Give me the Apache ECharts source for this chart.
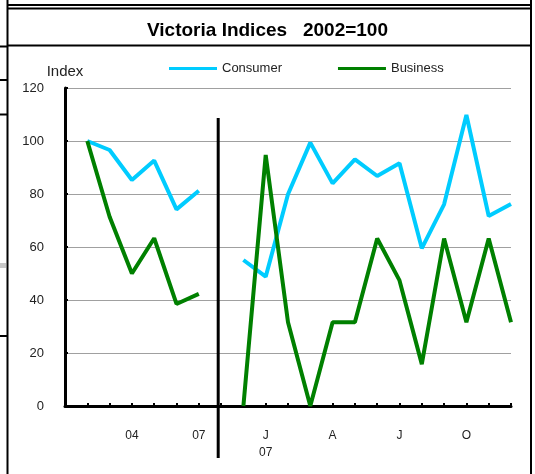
<!DOCTYPE html>
<html lang="en">

<head>
    <meta charset="UTF-8">
    <title>Victoria Indices</title>
    <style>
        body { margin: 0; background: #fff; }
    </style>
</head>

<body>
    <div id="main" style="width: 535px;height:474px;"></div>
    <script src="https://cdn.jsdelivr.net/npm/echarts@6/dist/echarts.min.js"></script>
    <script>
        // annual points (02..07), then monthly points (Dec 06 .. Dec 07)
        var consumerAnnual = [100, 96.6, 85.3, 92.6, 74.2, 81.2];
        var consumerMonthly = [55.1, 48.8, 79.9, 99.4, 84.0, 93.1, 86.8, 91.6, 59.5, 76.1, 109.8, 71.7, 76.2];
        var businessAnnual = [100, 71.4, 50.0, 63.3, 38.5, 42.3];
        var businessMonthly = [0, 94.7, 31.6, 0, 31.6, 31.6, 63.2, 47.4, 15.8, 63.2, 31.6, 63.2, 31.6];

        var categories = ['', '02', '03', '04', '05', '06', '07', '',
            'D', 'J', 'F', 'M', 'A', 'M', 'J', 'J', 'A', 'S', 'O', 'N', 'D'];
        var tickLabels = ['', '', '', '04', '', '', '07', '',
            '', 'J\n07', '', '', 'A', '', '', 'J', '', '', 'O', '', ''];

        // slot 0 empty, slot 7 is the break between annual and monthly
        var consumer = [null].concat(consumerAnnual, [null], consumerMonthly);
        var business = [null].concat(businessAnnual, [null], businessMonthly);

        var font = 'Liberation Sans, Arial, sans-serif';
        var myChart = echarts.init(document.getElementById('main'));

        var option = {
            animation: false,
            textStyle: { fontFamily: font },
            title: {
                text: 'Victoria Indices   2002=100',
                left: 'center',
                top: 16,
                textStyle: { fontSize: 19, fontWeight: 'bold', color: '#000', fontFamily: font }
            },
            legend: {
                left: 164,
                top: 57,
                icon: 'rect',
                itemWidth: 48,
                itemHeight: 3,
                itemGap: 56,
                textStyle: { fontSize: 13, color: '#222' },
                data: ['Consumer', 'Business']
            },
            grid: { left: 65, right: 24, top: 88, bottom: 68, containLabel: false },
            xAxis: {
                type: 'category',
                data: categories,
                boundaryGap: false,
                axisLine: { lineStyle: { color: '#000', width: 3 } },
                axisTick: { inside: true, length: 3, interval: 0, lineStyle: { color: '#000', width: 2 } },
                axisLabel: {
                    interval: 0,
                    margin: 21,
                    fontSize: 12,
                    lineHeight: 17,
                    color: '#222',
                    formatter: function (v, i) { return tickLabels[i]; }
                }
            },
            yAxis: {
                type: 'value',
                min: 0,
                max: 120,
                interval: 20,
                name: 'Index',
                nameGap: 9,
                nameTextStyle: { fontSize: 15, color: '#222', align: 'center' },
                axisLine: { show: true, lineStyle: { color: '#000', width: 3 } },
                axisTick: { show: true, inside: true, length: 3, lineStyle: { color: '#000', width: 2 } },
                axisLabel: { fontSize: 13, color: '#222', margin: 21 },
                splitLine: { lineStyle: { color: '#a0a0a0', width: 1 } }
            },
            series: [{
                name: 'Consumer',
                type: 'line',
                data: consumer,
                showSymbol: false,
                connectNulls: false,
                itemStyle: { color: '#00ccff' },
                lineStyle: { color: '#00ccff', width: 4 }
            }, {
                name: 'Business',
                type: 'line',
                data: business,
                showSymbol: false,
                connectNulls: false,
                itemStyle: { color: '#008000' },
                lineStyle: { color: '#008000', width: 4 }
            }]
        };
        myChart.setOption(option);

        // separator between annual and monthly parts, placed from the axis scale
        var x6 = myChart.convertToPixel({ xAxisIndex: 0 }, 6);
        var x7 = myChart.convertToPixel({ xAxisIndex: 0 }, 7);
        var sepX = x7 - (x7 - x6) * 0.13;
        var sepTop = myChart.convertToPixel({ yAxisIndex: 0 }, 108.7);

        var black = { stroke: '#000', lineWidth: 2 };
        myChart.setOption({
            graphic: [
                // sheet frame
                { type: 'line', shape: { x1: 7, y1: 5, x2: 532, y2: 5 }, style: black },
                { type: 'line', shape: { x1: 7, y1: 8.5, x2: 532, y2: 8.5 }, style: black },
                { type: 'line', shape: { x1: 7, y1: 45.5, x2: 532, y2: 45.5 }, style: black },
                { type: 'line', shape: { x1: 7.5, y1: 0, x2: 7.5, y2: 474 }, style: black },
                { type: 'line', shape: { x1: 531, y1: 0, x2: 531, y2: 474 }, style: black },
                // cell border stubs at left
                { type: 'line', shape: { x1: 0, y1: 46.5, x2: 7, y2: 46.5 }, style: black },
                { type: 'line', shape: { x1: 0, y1: 80, x2: 7, y2: 80 }, style: black },
                { type: 'line', shape: { x1: 0, y1: 114.5, x2: 7, y2: 114.5 }, style: black },
                { type: 'line', shape: { x1: 0, y1: 336, x2: 7, y2: 336 }, style: black },
                { type: 'rect', shape: { x: 0, y: 263, width: 6, height: 5 }, style: { fill: '#c8c8c8' } },
                // break line
                { type: 'line', shape: { x1: sepX, y1: sepTop, x2: sepX, y2: 458 }, style: { stroke: '#000', lineWidth: 3 }, z: 10 }
            ]
        });
    </script>
</body>

</html>
